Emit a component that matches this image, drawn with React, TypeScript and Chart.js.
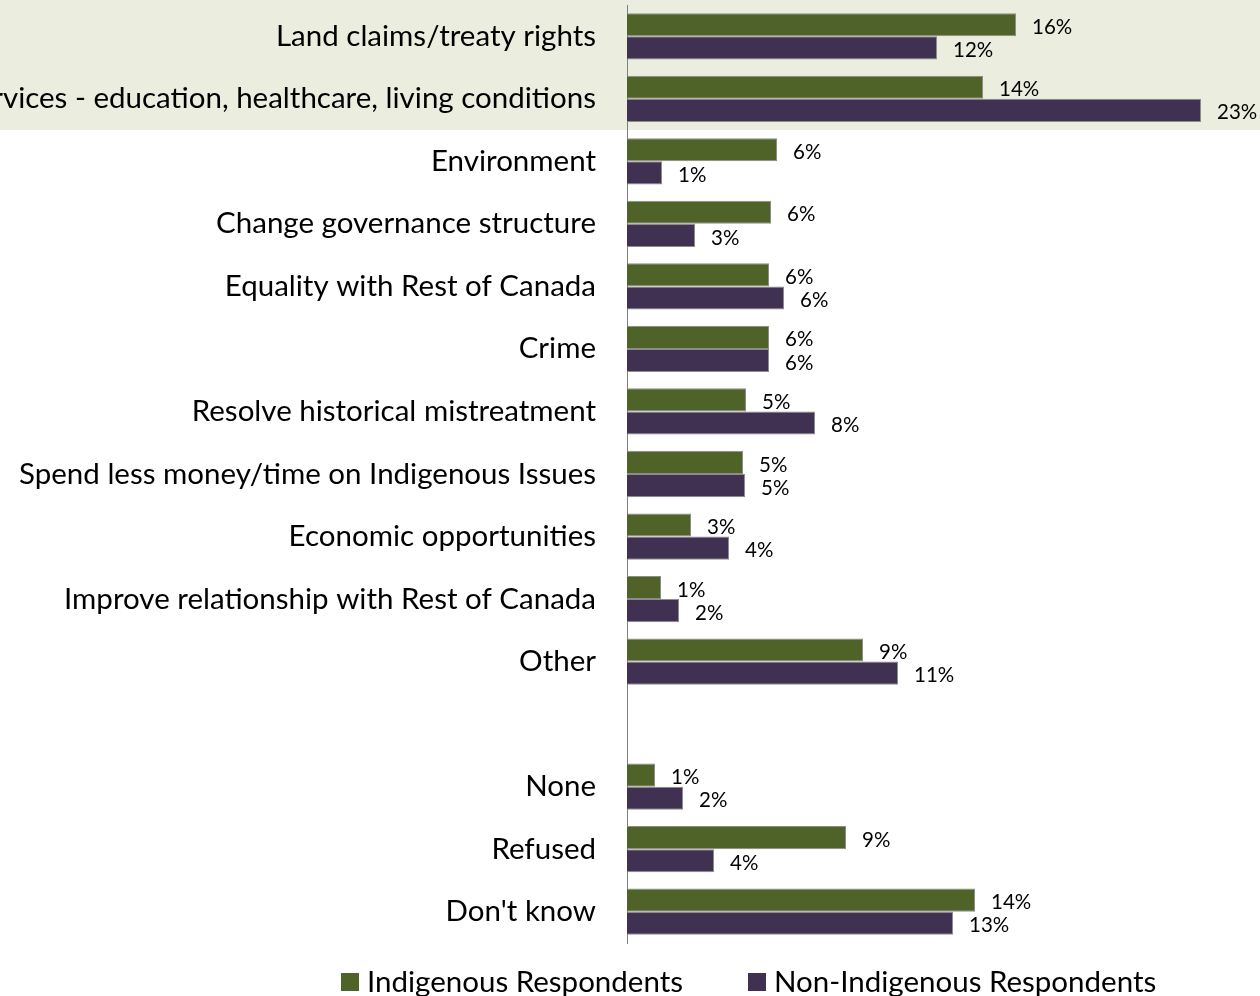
import React, { useEffect, useRef } from "react";
import { Chart, registerables } from "chart.js";

Chart.register(...registerables);

const categories = [
  "Land claims/treaty rights",
  "Services - education, healthcare, living conditions",
  "Environment",
  "Change governance structure",
  "Equality with Rest of Canada",
  "Crime",
  "Resolve historical mistreatment",
  "Spend less money/time on Indigenous Issues",
  "Economic opportunities",
  "Improve relationship with Rest of Canada",
  "Other",
  "",
  "None",
  "Refused",
  "Don't know",
];

const indigenousValues = [15.56, 14.24, 6.0, 5.76, 5.68, 5.68, 4.76, 4.64, 2.56, 1.36, 9.44, null, 1.12, 8.76, 13.92];
const nonIndigenousValues = [12.4, 22.96, 1.4, 2.72, 6.28, 5.68, 7.52, 4.72, 4.08, 2.08, 10.84, null, 2.24, 3.48, 13.04];

const indigenousLabels = ["16%", "14%", "6%", "6%", "6%", "6%", "5%", "5%", "3%", "1%", "9%", "", "1%", "9%", "14%"];
const nonIndigenousLabels = ["12%", "23%", "1%", "3%", "6%", "6%", "8%", "5%", "4%", "2%", "11%", "", "2%", "4%", "13%"];

const seriesNames = ["Indigenous Respondents", "Non-Indigenous Respondents"];
const seriesColors = ["#4F6228", "#403152"];

const FONT = "Lato, 'Open Sans', sans-serif";

export default function App() {
  const ref = useRef<HTMLCanvasElement | null>(null);

  useEffect(() => {
    document.body.style.margin = "0";
    const canvas = ref.current;
    if (!canvas) return;

    const highlightPlugin = {
      id: "highlight",
      beforeDraw(chart: any) {
        const ctx = chart.ctx;
        const y = chart.scales.y;
        const bottom = (y.getPixelForValue(1) + y.getPixelForValue(2)) / 2;
        ctx.save();
        ctx.fillStyle = "#EBEEDE";
        ctx.fillRect(0, 0, chart.width, bottom);
        ctx.restore();
      },
    };

    const labelPlugin = {
      id: "valueLabels",
      afterDatasetsDraw(chart: any) {
        const ctx = chart.ctx;
        const labelsets = [indigenousLabels, nonIndigenousLabels];
        ctx.save();
        ctx.font = `20.5px ${FONT}`;
        ctx.fillStyle = "#000";
        ctx.textAlign = "left";
        ctx.textBaseline = "middle";
        chart.data.datasets.forEach((ds: any, di: number) => {
          const meta = chart.getDatasetMeta(di);
          meta.data.forEach((bar: any, i: number) => {
            const txt = labelsets[di][i];
            if (!txt || ds.data[i] == null) return;
            ctx.fillText(txt, bar.x + 16, bar.y + 2.5);
          });
        });
        ctx.restore();
      },
    };

    const legendPlugin = {
      id: "customLegend",
      afterDraw(chart: any) {
        const ctx = chart.ctx;
        ctx.save();
        const items = [
          { x: 341, name: seriesNames[0], color: seriesColors[0] },
          { x: 748, name: seriesNames[1], color: seriesColors[1] },
        ];
        const cy = 982;
        items.forEach((it) => {
          ctx.fillStyle = it.color;
          ctx.fillRect(it.x, cy - 9, 18, 18);
          ctx.fillStyle = "#000";
          ctx.font = `29.5px ${FONT}`;
          ctx.textAlign = "left";
          ctx.textBaseline = "middle";
          ctx.fillText(it.name, it.x + 26, cy);
        });
        ctx.restore();
      },
    };

    const chart = new Chart(canvas, {
      type: "bar",
      data: {
        labels: categories,
        datasets: [
          {
            label: seriesNames[0],
            data: indigenousValues,
            backgroundColor: seriesColors[0],
            borderColor: "#8c8c8c",
            borderWidth: 1,
            categoryPercentage: 0.74,
            barPercentage: 1.0,
          },
          {
            label: seriesNames[1],
            data: nonIndigenousValues,
            backgroundColor: seriesColors[1],
            borderColor: "#8c8c8c",
            borderWidth: 1,
            categoryPercentage: 0.74,
            barPercentage: 1.0,
          },
        ],
      },
      options: {
        indexAxis: "y",
        animation: false,
        responsive: false,
        maintainAspectRatio: false,
        layout: { padding: { top: 5, bottom: 53, left: 0, right: 0 } },
        plugins: {
          legend: { display: false },
          tooltip: { enabled: false },
        },
        scales: {
          x: {
            display: false,
            min: 0,
            max: 25.32,
          },
          y: {
            grid: { display: false, drawTicks: false },
            border: { display: true, color: "#7f7f7f", width: 1 },
            ticks: {
              color: "#000",
              font: { family: FONT, size: 29.5 },
              padding: 31,
              autoSkip: false,
            },
            afterFit(scale: any) {
              scale.width = 627;
              scale.paddingTop = 0;
              scale.paddingBottom = 0;
            },
          },
        },
      },
      plugins: [highlightPlugin, labelPlugin, legendPlugin],
    });

    return () => chart.destroy();
  }, []);

  return (
    <div style={{ width: 1260, height: 996 }}>
      <canvas ref={ref} width={1260} height={996} style={{ display: "block" }} />
    </div>
  );
}
